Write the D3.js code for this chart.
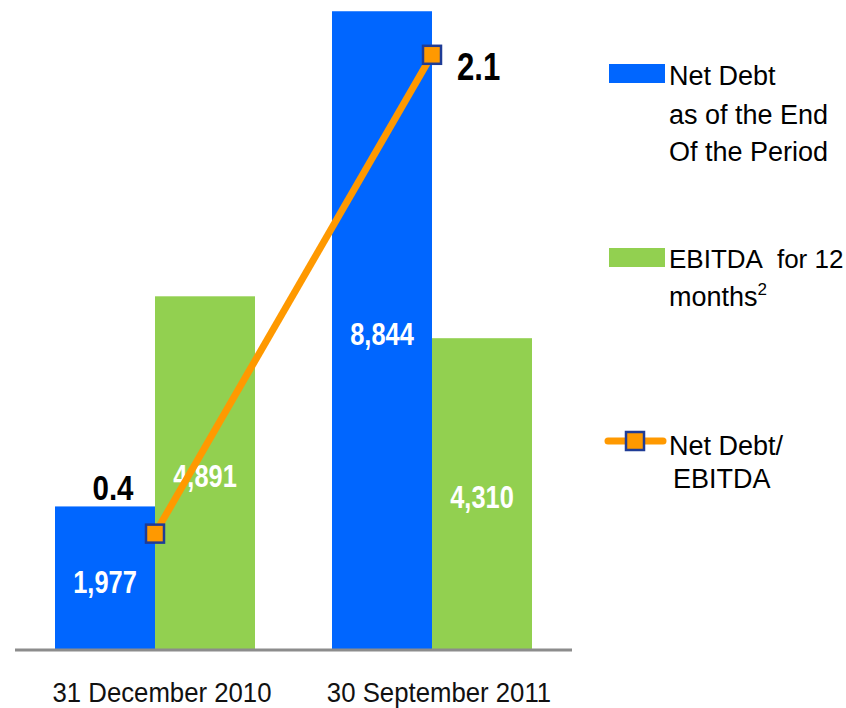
<!DOCTYPE html>
<html>
<head>
<meta charset="utf-8">
<script src="https://cdn.jsdelivr.net/npm/d3@7"></script>
<style>
  body { margin: 0; background: #fff; }
  svg { display: block; }
</style>
</head>
<body>
<div id="chart"></div>
<script>
(function () {

  'use strict';

  const FONT_FAMILY = 'Liberation Sans, Arial, sans-serif';
  const WIDTH = 846;
  const HEIGHT = 708;
  // The bold labels in the original are a narrow face, squeeze them.
  const NARROW = 0.82;

  // Data.
  const periods = ['31 December 2010', '30 September 2011'];
  const netDebt = [1977, 8844];
  const ebitda = [4891, 4310];
  const ratio = [0.40, 2.06];

  const BLUE = '#0066ff';
  const GREEN = '#92d050';
  const ORANGE = '#ff9900';
  const MARKER_EDGE = '#1f3c96';

  let svg = d3.select('#chart')
    .append('svg')
    .attr('width', WIDTH)
    .attr('height', HEIGHT)
    .style('font-family', FONT_FAMILY);

  // Scales.
  let x0 = d3.scaleBand()
    .domain(periods)
    .range([55, 532])
    .paddingInner(0.278)
    .paddingOuter(0);

  let x1 = d3.scaleBand()
    .domain(['netDebt', 'ebitda'])
    .range([0, x0.bandwidth()]);

  let y = d3.scaleLinear()
    .domain([0, 9000])
    .range([649, 0]);

  let yRatio = d3.scaleLinear()
    .domain([0, 2.25])
    .range([649, 0]);

  let fmt = d3.format(',');
  let fmtRatio = d3.format('.1f');

  let rows = periods.map(function (p, i) {
    return {period: p, netDebt: netDebt[i], ebitda: ebitda[i], ratio: ratio[i]};
  });

  // Bold, squeezed label.
  let addLabel = function (parent, x, yy, txt, size, anchor, color) {
    parent.append('g')
      .attr('transform', 'translate(' + x + ',' + yy + ') scale(' + NARROW + ',1)')
      .append('text')
      .attr('text-anchor', anchor)
      .style('font-weight', 'bold')
      .style('font-size', size + 'px')
      .style('fill', color)
      .text(txt);
  };

  // Bars.
  let groups = svg.selectAll('g.group')
    .data(rows)
    .enter()
    .append('g')
    .attr('class', 'group')
    .attr('transform', function (d) {
      return 'translate(' + x0(d.period) + ',0)';
    });

  groups.append('rect')
    .attr('x', x1('netDebt'))
    .attr('y', function (d) { return y(d.netDebt); })
    .attr('width', x1.bandwidth())
    .attr('height', function (d) { return y(0) - y(d.netDebt); })
    .style('fill', BLUE);

  groups.append('rect')
    .attr('x', x1('ebitda'))
    .attr('y', function (d) { return y(d.ebitda); })
    .attr('width', x1.bandwidth())
    .attr('height', function (d) { return y(0) - y(d.ebitda); })
    .style('fill', GREEN);

  // Value labels inside bars.
  let labelY = function (v) {
    return y(v) + (y(0) - y(v)) / 2 + 11;
  };

  groups.each(function (d) {
    let g = d3.select(this);
    let ndY = d.netDebt > 5000 ? y(d.netDebt) + 334 : labelY(d.netDebt) + 4;
    addLabel(g, x1('netDebt') + x1.bandwidth() / 2, ndY, fmt(d.netDebt), 31, 'middle', '#fff');
    addLabel(g, x1('ebitda') + x1.bandwidth() / 2, labelY(d.ebitda) + 3, fmt(d.ebitda), 31, 'middle', '#fff');
  });

  // Baseline and category axis.
  svg.append('line')
    .attr('x1', 15)
    .attr('x2', 572)
    .attr('y1', y(0) + 1)
    .attr('y2', y(0) + 1)
    .style('stroke', '#8c8c8c')
    .style('stroke-width', 3);

  let axis = svg.append('g')
    .attr('transform', 'translate(7,' + (y(0) + 2) + ')')
    .call(d3.axisBottom(x0).tickSize(0).tickPadding(31));
  axis.select('.domain').remove();
  axis.selectAll('text')
    .attr('transform', 'scale(0.92,1)')
    .style('font-family', FONT_FAMILY)
    .style('font-size', '28px')
    .style('fill', '#111');

  // Ratio line.
  let cx = function (d) { return x0(d.period) + x0.bandwidth() / 2; };

  svg.append('path')
    .datum(rows)
    .attr('d', d3.line()
      .x(cx)
      .y(function (d) { return yRatio(d.ratio); }))
    .style('fill', 'none')
    .style('stroke', ORANGE)
    .style('stroke-width', 7);

  svg.selectAll('rect.marker')
    .data(rows)
    .enter()
    .append('rect')
    .attr('class', 'marker')
    .attr('x', function (d) { return cx(d) - 9; })
    .attr('y', function (d) { return yRatio(d.ratio) - 9; })
    .attr('width', 18)
    .attr('height', 18)
    .style('fill', ORANGE)
    .style('stroke', MARKER_EDGE)
    .style('stroke-width', 2.5);

  // Ratio labels.
  addLabel(svg, x0(periods[0]) + x1('netDebt') + x1.bandwidth() / 2 + 8,
    yRatio(ratio[0]) - 34, fmtRatio(ratio[0]), 36, 'middle', '#000');
  addLabel(svg, cx(rows[1]) + 25, yRatio(ratio[1]) + 25,
    fmtRatio(ratio[1]), 38, 'start', '#000');

  // Legend.
  let legend = svg.append('g')
    .style('font-size', '27px')
    .style('fill', '#000');

  legend.append('rect')
    .attr('x', 609).attr('y', 64)
    .attr('width', 56).attr('height', 19)
    .style('fill', BLUE);

  let t1 = legend.append('text');
  t1.append('tspan').attr('x', 669).attr('y', 85).text('Net Debt');
  t1.append('tspan').attr('x', 669).attr('y', 124).text('as of the End');
  t1.append('tspan').attr('x', 669).attr('y', 161).text('Of the Period');

  legend.append('rect')
    .attr('x', 609).attr('y', 248)
    .attr('width', 56).attr('height', 19)
    .style('fill', GREEN);

  let t2 = legend.append('text').style('font-size', '26px');
  t2.append('tspan').attr('x', 669).attr('y', 268).text('EBITDA');
  t2.append('tspan').attr('dx', 14).text('for 12');
  t2.append('tspan').attr('x', 669).attr('y', 306).style('font-size', '27px').text('months');
  t2.append('tspan').attr('dy', -11).style('font-size', '17px').text('2');

  legend.append('line')
    .attr('x1', 608).attr('x2', 663)
    .attr('y1', 441).attr('y2', 441)
    .style('stroke', ORANGE)
    .style('stroke-width', 7)
    .style('stroke-linecap', 'round');

  legend.append('rect')
    .attr('x', 626).attr('y', 432)
    .attr('width', 18).attr('height', 18)
    .style('fill', ORANGE)
    .style('stroke', MARKER_EDGE)
    .style('stroke-width', 2.5);

  let t3 = legend.append('text');
  t3.append('tspan').attr('x', 669).attr('y', 455).text('Net Debt/');
  t3.append('tspan').attr('x', 673).attr('y', 488).text('EBITDA');

}());
</script>
</body>
</html>
